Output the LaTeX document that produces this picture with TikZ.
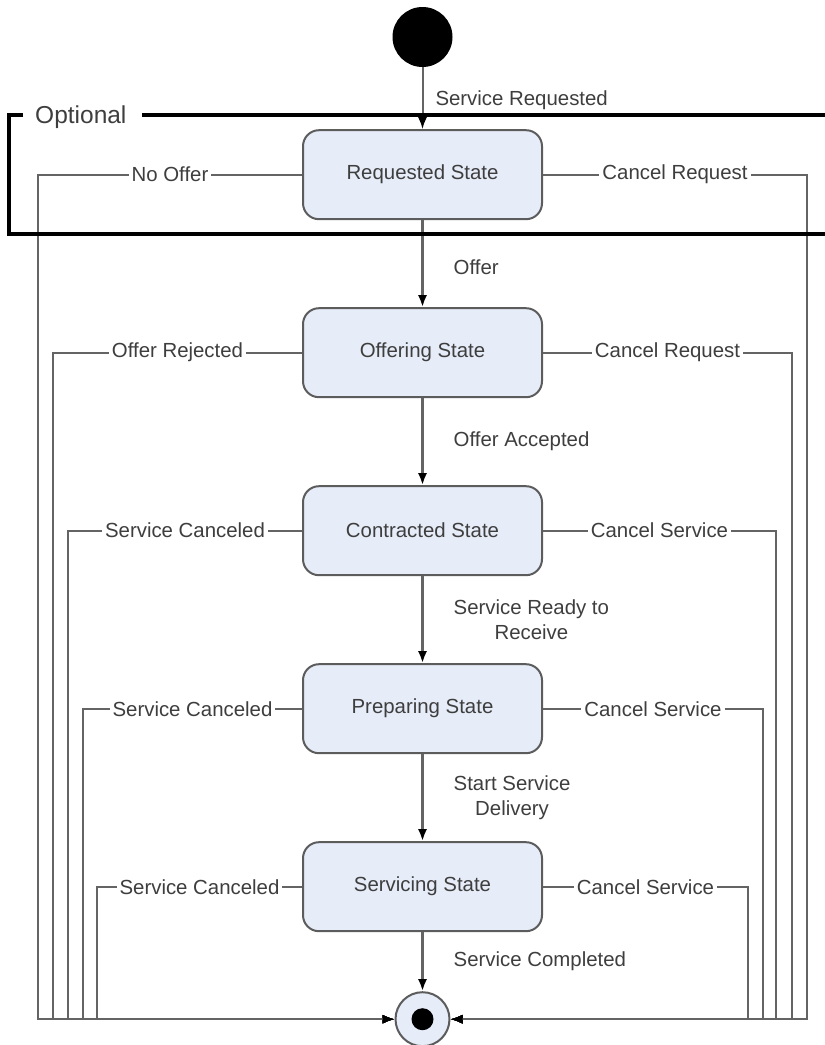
\documentclass[tikz,border=0pt]{standalone}
\usepackage{fontspec}
\setmainfont{Liberation Sans}
\usetikzlibrary{arrows.meta,positioning}

\definecolor{stfill}{RGB}{230,236,248}
\definecolor{stline}{RGB}{92,92,92}
\definecolor{cnline}{RGB}{100,100,100}
\definecolor{txtgray}{RGB}{62,62,62}

\tikzset{
  stbox/.style={draw=stline, line width=2pt, fill=stfill, rounded corners=16pt,
    minimum width=239pt, minimum height=89pt, text=txtgray},
  initdot/.style={circle, fill=black, minimum size=60pt, inner sep=0pt},
  finaldot/.style={circle, draw=stline, line width=2pt, fill=stfill, minimum size=54pt, inner sep=0pt},
  cn/.style={draw=cnline, line width=2pt},
  lbl/.style={text=txtgray, inner sep=2pt},
  onlbl/.style={lbl, fill=white, inner sep=3pt},
  frameline/.style={-, draw=black, line width=4pt}
}

\begin{document}
\begin{tikzpicture}[x=1pt,y=-1pt,->,>={Latex[length=12pt,width=9pt,color=black]},
  font=\fontsize{20.4}{24.5}\selectfont, node distance=87pt]
  \useasboundingbox (0,0) rectangle (825,1045);

  \node [initdot] (init) at (422.5,37) {};
  \node [stbox, below=62pt of init] (req) {Requested State};
  \node [stbox, below=of req] (off) {Offering State};
  \node [stbox, below=of off] (con) {Contracted State};
  \node [stbox, below=of con] (pre) {Preparing State};
  \node [stbox, below=of pre] (ser) {Servicing State};
  \node [finaldot, below=59pt of ser] (final) {};
  \node [circle, fill=black, minimum size=22pt, inner sep=0pt] (finalin) at (final) {};

  % bottom corners of the side connectors
  \coordinate (lx1) at (38,0);
  \coordinate (lx2) at (53,0);
  \coordinate (lx3) at (68,0);
  \coordinate (lx4) at (83,0);
  \coordinate (lx5) at (97,0);
  \coordinate (rx1) at (807,0);
  \coordinate (rx2) at (792,0);
  \coordinate (rx3) at (776,0);
  \coordinate (rx4) at (763,0);
  \coordinate (rx5) at (748,0);

  \draw[cn] (init) -- node[lbl, right=10pt, yshift=-2pt] (tSrvReq) {Service Requested} (req);
  \draw[cn, line width=2.4pt] (req) -- node[lbl, right=28pt, yshift=-4pt] (tOffer) {Offer} (off);
  \draw[cn, line width=2.4pt] (off) -- node[lbl, right=28pt] (tAccept) {Offer Accepted} (con);
  \draw[cn, line width=2.4pt] (con) -- node[lbl, right=28pt, align=center] (tReady) {Service Ready to\\Receive} (pre);
  \draw[cn, line width=2.4pt] (pre) -- node[lbl, right=28pt, align=center] (tStart) {Start Service\\Delivery} (ser);
  \draw[cn, line width=2.4pt] (ser) -- node[lbl, right=28pt] (tDone) {Service Completed} (final);

  \draw[cn] (req.west) -- node[onlbl] (lNoOffer) {No Offer} (req.west -| lx1) -- (lx1 |- final.west) -- (final.west);
  \draw[cn] (off.west) -- node[onlbl] (lRejected) {Offer Rejected} (off.west -| lx2) -- (lx2 |- final.west) -- (final.west);
  \draw[cn] (con.west) -- node[onlbl] (lConCancel) {Service Canceled} (con.west -| lx3) -- (lx3 |- final.west) -- (final.west);
  \draw[cn] (pre.west) -- node[onlbl] (lPreCancel) {Service Canceled} (pre.west -| lx4) -- (lx4 |- final.west) -- (final.west);
  \draw[cn] (ser.west) -- node[onlbl] (lSerCancel) {Service Canceled} (ser.west -| lx5) -- (lx5 |- final.west) -- (final.west);

  \draw[cn] (req.east) -- node[onlbl] (rReqCancel) {Cancel Request} (req.east -| rx1) -- (rx1 |- final.east) -- (final.east);
  \draw[cn] (off.east) -- node[onlbl] (rOffCancel) {Cancel Request} (off.east -| rx2) -- (rx2 |- final.east) -- (final.east);
  \draw[cn] (con.east) -- node[onlbl] (rConCancel) {Cancel Service} (con.east -| rx3) -- (rx3 |- final.east) -- (final.east);
  \draw[cn] (pre.east) -- node[onlbl] (rPreCancel) {Cancel Service} (pre.east -| rx4) -- (rx4 |- final.east) -- (final.east);
  \draw[cn] (ser.east) -- node[onlbl] (rSerCancel) {Cancel Service} (ser.east -| rx5) -- (rx5 |- final.east) -- (final.east);

  % optional frame
  \draw[frameline] (23,115) -- (9,115) -- (9,234) -- (825,234);
  \draw[frameline] (142,115) -- (825,115);
  \node [lbl, anchor=base west, font=\fontsize{24.5}{29}\selectfont] (optional) at (33,123) {Optional};

\end{tikzpicture}
\end{document}
